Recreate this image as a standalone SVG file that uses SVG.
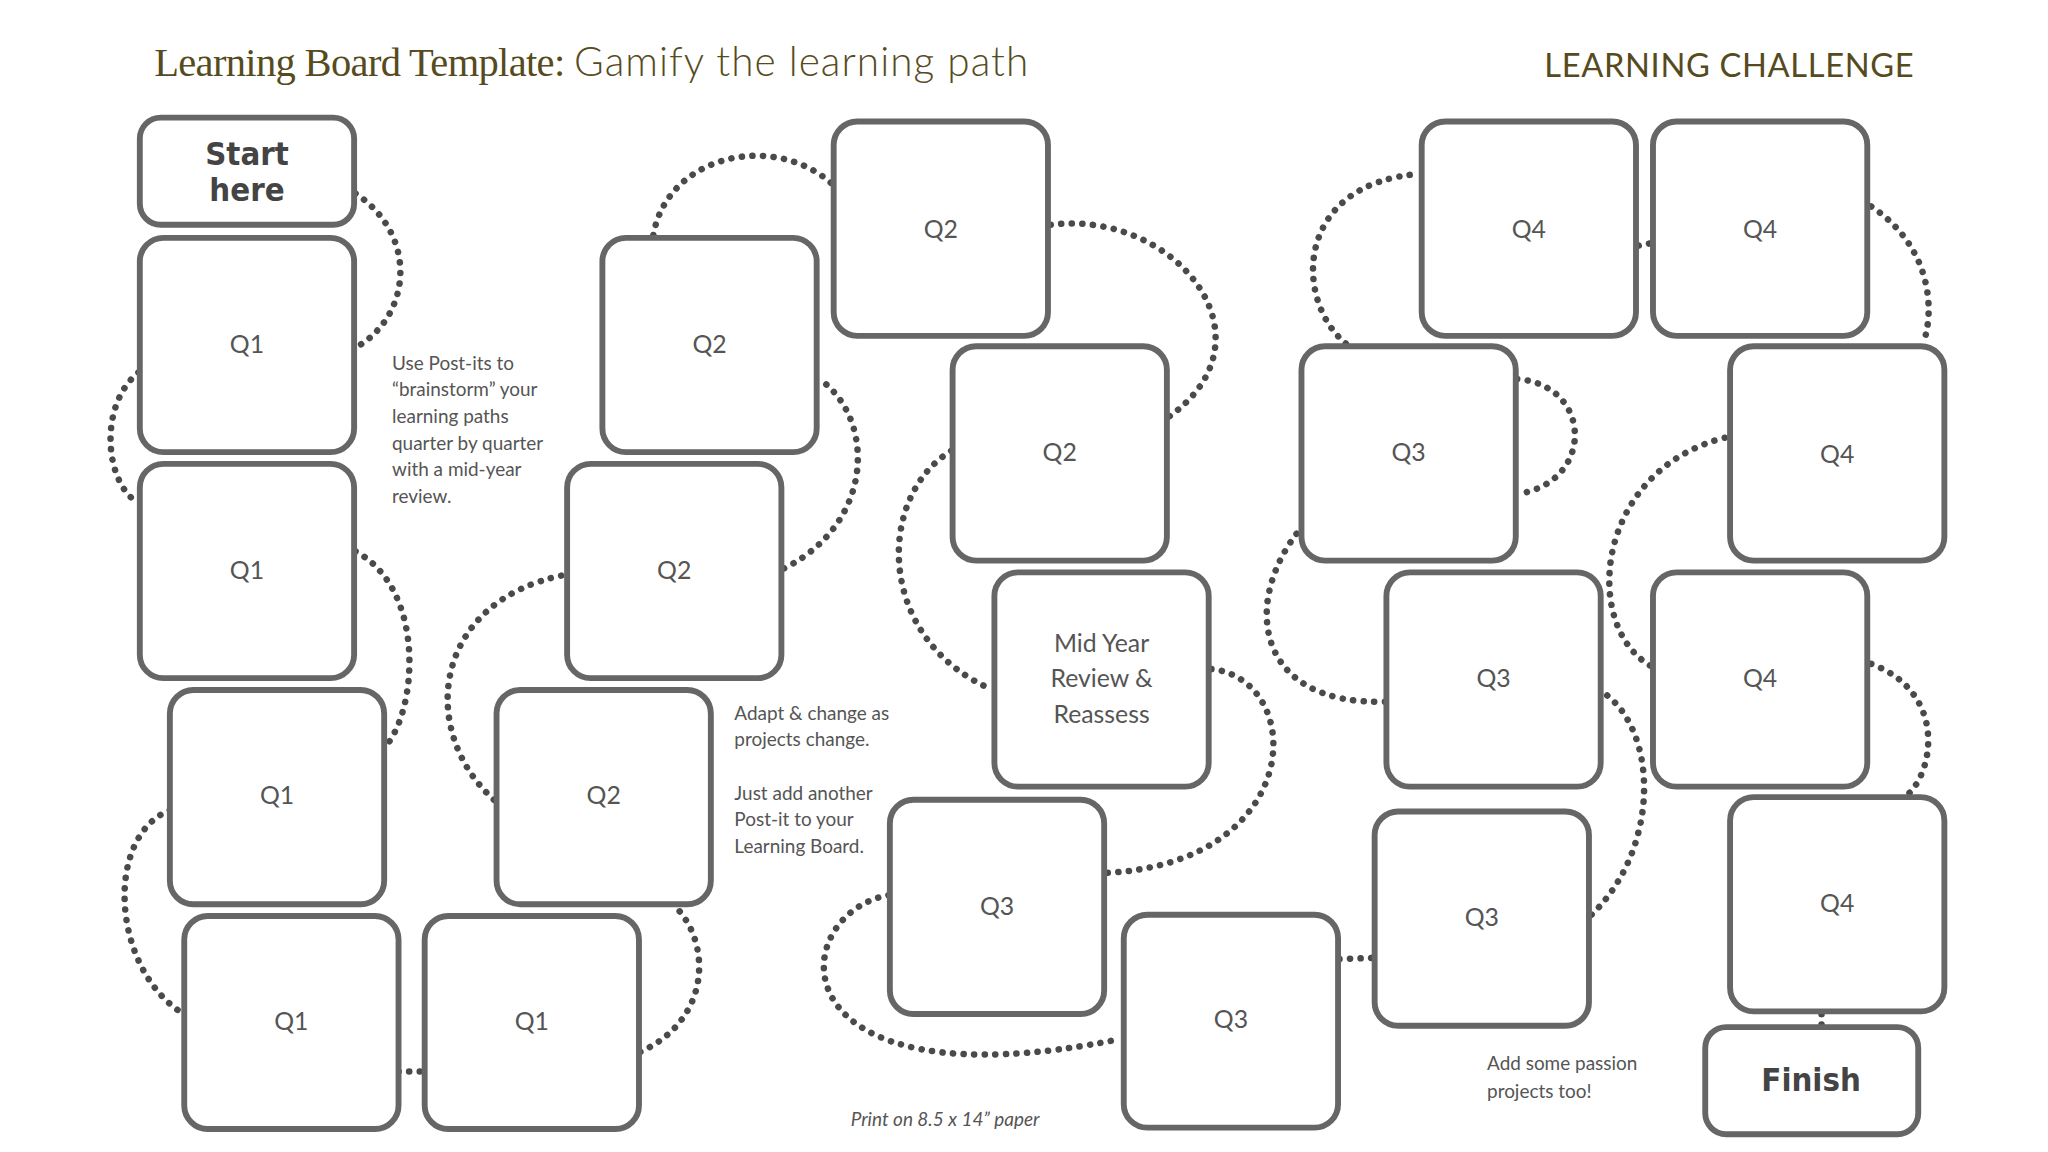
<svg xmlns="http://www.w3.org/2000/svg" width="2048" height="1152" viewBox="0 0 2048 1152">
<style>
.b{fill:#fff;stroke:#666;stroke-width:4.5}
.c{fill:none;stroke:#4a4a4a;stroke-width:5;stroke-dasharray:0.1 8;stroke-linecap:round}
.l{font-family:"Lato","Liberation Sans",sans-serif;font-size:19px;fill:#555;text-anchor:middle}
.s{font-family:"DejaVu Sans Condensed","DejaVu Sans",sans-serif;font-weight:bold;font-size:25px;fill:#444;text-anchor:middle}
.n{font-family:"Lato","Liberation Sans",sans-serif;font-size:14.5px;fill:#555}
</style>
<rect width="2048" height="1152" fill="#fff"/>
<g transform="scale(1.3067)">
<g id="title">
<text x="118" y="58" font-family="Liberation Serif,serif" font-size="31" fill="#564b1e" letter-spacing="-0.5">Learning Board Template: <tspan font-family="Lato,Liberation Sans,sans-serif" font-weight="300" font-size="31" letter-spacing="0.8">Gamify the learning path</tspan></text>
<text x="1465" y="59" text-anchor="end" font-family="Lato,Liberation Sans,sans-serif" font-size="25" letter-spacing="0.5" fill="#564b1e">LEARNING CHALLENGE</text>
</g>
<g id="connectors">
<path class="c" d="M272,148 C320,180 315,240 274,265"/>
<path class="c" d="M106,285 C75,310 80,370 106,385"/>
<path class="c" d="M272,422 C325,450 320,540 296,570"/>
<path class="c" d="M130,620 C80,640 85,740 139,775"/>
<path class="c" d="M305,820 L325,820"/>
<path class="c" d="M490,805 C545,780 545,720 515,692"/>
<path class="c" d="M378,612 C320,560 330,460 432,440"/>
<path class="c" d="M600,435 C670,400 670,320 627,290"/>
<path class="c" d="M500,180 C510,120 590,100 636,140"/>
<path class="c" d="M804,172 C900,160 980,260 893,320"/>
<path class="c" d="M728,345 C670,380 670,490 760,528"/>
<path class="c" d="M927,512 C1000,520 1000,660 847,668"/>
<path class="c" d="M680,685 C600,700 590,850 858,795"/>
<path class="c" d="M1025,734 L1051,733"/>
<path class="c" d="M1218,700 C1270,650 1270,560 1227,530"/>
<path class="c" d="M1060,537 C960,540 950,460 995,405"/>
<path class="c" d="M1161,290 C1220,295 1220,370 1161,378"/>
<path class="c" d="M1030,263 C990,230 990,140 1087,133"/>
<path class="c" d="M1254,188 L1264,186"/>
<path class="c" d="M1432,158 C1480,190 1480,240 1472,262"/>
<path class="c" d="M1320,335 C1220,360 1210,480 1264,510"/>
<path class="c" d="M1432,508 C1490,530 1480,590 1460,608"/>
<path class="c" d="M1394,776 L1394,786"/>
</g>
<g id="start"><rect class="b" x="107" y="90" width="164" height="82" rx="16"/><text class="s" x="189" y="126">Start</text><text class="s" x="189" y="154">here</text></g>
<g id="q1a"><rect class="b" x="107" y="182" width="164" height="164" rx="18"/><text class="l" x="189" y="270">Q1</text></g>
<g id="q1b"><rect class="b" x="107" y="355" width="164" height="164" rx="18"/><text class="l" x="189" y="443">Q1</text></g>
<g id="q1c"><rect class="b" x="130" y="528" width="164" height="164" rx="18"/><text class="l" x="212" y="615">Q1</text></g>
<g id="q1d"><rect class="b" x="141" y="701" width="164" height="163" rx="18"/><text class="l" x="223" y="788">Q1</text></g>
<g id="q1e"><rect class="b" x="325" y="701" width="164" height="163" rx="18"/><text class="l" x="407" y="788">Q1</text></g>
<g id="q2a"><rect class="b" x="380" y="528" width="164" height="164" rx="18"/><text class="l" x="462" y="615">Q2</text></g>
<g id="q2b"><rect class="b" x="434" y="355" width="164" height="164" rx="18"/><text class="l" x="516" y="443">Q2</text></g>
<g id="q2c"><rect class="b" x="461" y="182" width="164" height="164" rx="18"/><text class="l" x="543" y="270">Q2</text></g>
<g id="q2d"><rect class="b" x="638" y="93" width="164" height="164" rx="18"/><text class="l" x="720" y="182">Q2</text></g>
<g id="q2e"><rect class="b" x="729" y="265" width="164" height="164" rx="18"/><text class="l" x="811" y="353">Q2</text></g>
<g id="mid"><rect class="b" x="761" y="438" width="164" height="164" rx="18"/><text class="l" x="843" y="499">Mid Year</text><text class="l" x="843" y="526">Review &amp;</text><text class="l" x="843" y="553">Reassess</text></g>
<g id="q3a"><rect class="b" x="681" y="612" width="164" height="164" rx="18"/><text class="l" x="763" y="700">Q3</text></g>
<g id="q3b"><rect class="b" x="860" y="700" width="164" height="163" rx="18"/><text class="l" x="942" y="787">Q3</text></g>
<g id="q3c"><rect class="b" x="1052" y="621" width="164" height="164" rx="18"/><text class="l" x="1134" y="709">Q3</text></g>
<g id="q3d"><rect class="b" x="1061" y="438" width="164" height="164" rx="18"/><text class="l" x="1143" y="526">Q3</text></g>
<g id="q3e"><rect class="b" x="996" y="265" width="164" height="164" rx="18"/><text class="l" x="1078" y="353">Q3</text></g>
<g id="q4a"><rect class="b" x="1088" y="93" width="164" height="164" rx="18"/><text class="l" x="1170" y="182">Q4</text></g>
<g id="q4b"><rect class="b" x="1265" y="93" width="164" height="164" rx="18"/><text class="l" x="1347" y="182">Q4</text></g>
<g id="q4c"><rect class="b" x="1324" y="265" width="164" height="164" rx="18"/><text class="l" x="1406" y="354">Q4</text></g>
<g id="q4d"><rect class="b" x="1265" y="438" width="164" height="164" rx="18"/><text class="l" x="1347" y="526">Q4</text></g>
<g id="q4e"><rect class="b" x="1324" y="610" width="164" height="164" rx="18"/><text class="l" x="1406" y="698">Q4</text></g>
<g id="finish"><rect class="b" x="1305" y="786" width="163" height="82" rx="16"/><text class="s" x="1386" y="835">Finish</text></g>
<g id="notes">
<text class="n" x="300" y="283">Use Post-its to</text>
<text class="n" x="300" y="303">“brainstorm” your</text>
<text class="n" x="300" y="324">learning paths</text>
<text class="n" x="300" y="344">quarter by quarter</text>
<text class="n" x="300" y="364">with a mid-year</text>
<text class="n" x="300" y="385">review.</text>
<text class="n" x="562" y="551">Adapt &amp; change as</text>
<text class="n" x="562" y="571">projects change.</text>
<text class="n" x="562" y="612">Just add another</text>
<text class="n" x="562" y="632">Post-it to your</text>
<text class="n" x="562" y="653">Learning Board.</text>
<text class="n" x="1138" y="819">Add some passion</text>
<text class="n" x="1138" y="840">projects too!</text>
<text class="n" x="651" y="862" font-size="12" font-style="italic">Print on 8.5 x 14” paper</text>
</g>
</g>
</svg>
